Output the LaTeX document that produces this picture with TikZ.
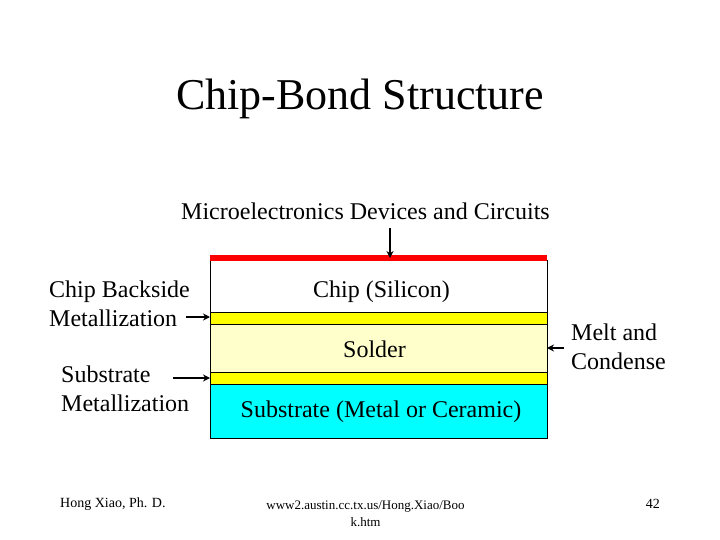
\documentclass[tikz,border=0pt]{standalone}
\usepackage{fontspec}
\setmainfont{Liberation Serif}
\usetikzlibrary{arrows.meta}
\definecolor{solderc}{RGB}{255,255,204}
\definecolor{metalc}{RGB}{255,255,0}
\definecolor{subc}{RGB}{0,255,255}
\begin{document}
\begin{tikzpicture}[x=1pt,y=-1pt,
 lbl/.style={inner sep=0pt,font=\fontsize{24}{29}\selectfont,align=left},
 small/.style={inner sep=0pt,font=\fontsize{14}{18}\selectfont,align=center},
 arr/.style={draw=black,line width=1.5pt,-{Stealth[length=7pt,width=7pt]}},
 layer/.style={draw=black,line width=0.8pt,minimum width=337pt,inner sep=0pt,outer sep=0pt,anchor=north west}]
\useasboundingbox (0,0) rectangle (720,540);
\node[inner sep=0pt,font=\fontsize{44}{50}\selectfont] (title) at (360,99) {Chip-Bond Structure};
\node[lbl] (devices) at (365.5,211) {Microelectronics Devices and Circuits};
\node[layer,fill=white,minimum height=52pt] (chip) at (210,260) {};
\node[layer,fill=metalc,minimum height=12pt] (top) at (210,312) {};
\node[layer,fill=solderc,minimum height=48pt] (solder) at (210,324) {};
\node[layer,fill=metalc,minimum height=12pt] (bot) at (210,372) {};
\node[layer,fill=subc,minimum height=54pt] (sub) at (210,384) {};
\node[anchor=north west,fill=red,minimum width=337pt,minimum height=6pt,inner sep=0pt] (dev) at (210,255) {};
\node[lbl] at (381.5,292) {Chip (Silicon)};
\node[lbl] at (374.5,349) {Solder};
\node[lbl] at (381,412) {Substrate (Metal or Ceramic)};
\node[lbl,anchor=west] (cb) at (49,304) {Chip Backside\\Metallization};
\node[lbl,anchor=west] (sm) at (61,389) {Substrate\\Metallization};
\node[lbl,anchor=west] (mc) at (571,347) {Melt and\\Condense};
\coordinate (a1) at (186,317); \coordinate (a1e) at (210,317);
\coordinate (a2) at (173,378); \coordinate (a2e) at (210,378);
\coordinate (a3) at (564,348); \coordinate (a3e) at (547,348);
\coordinate (a4) at (390,228); \coordinate (a4e) at (390,258);
\draw[arr] (a1) -- (a1e);
\draw[arr] (a2) -- (a2e);
\draw[arr] (a3) -- (a3e);
\draw[arr] (a4) -- (a4e);
\node[small,anchor=west] (f1) at (60,504) {Hong Xiao, Ph. D.};
\node[small,font=\fontsize{13}{17}\selectfont] (f2) at (365.5,514) {www2.austin.cc.tx.us/Hong.Xiao/Boo\\k.htm};
\node[small,anchor=east] (f3) at (660,504) {42};
\end{tikzpicture}
\end{document}
